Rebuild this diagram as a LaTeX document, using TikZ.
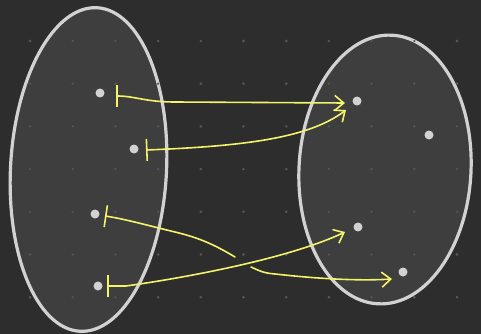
\documentclass[tikz,border=0pt]{standalone}
\usetikzlibrary{arrows.meta,shapes.geometric}
\definecolor{bg}{HTML}{2D2D2D}
\definecolor{gridc}{HTML}{555555}
\definecolor{setfill}{HTML}{3E3E3E}
\definecolor{setline}{HTML}{D2D2D2}
\definecolor{ptc}{HTML}{D2D2D2}
\definecolor{yel}{HTML}{F4F46B}
\begin{document}
\begin{tikzpicture}[x=1pt,y=-1pt,
  setshape/.style={ellipse, draw=setline, fill=setfill, line width=3.2pt, inner sep=0pt},
  pt/.style={circle, fill=ptc, inner sep=0pt, minimum size=9pt},
  mapsto/.style={draw=yel, line width=1.6pt, line cap=round, line join=round,
    {Bar[width=22pt,line width=1.6pt]}-{Straight Barb[length=9pt,width=15pt,line width=1.6pt]}},
  mapstart/.style={draw=yel, line width=1.6pt, line cap=round, line join=round,
    {Bar[width=22pt,line width=1.6pt]}-},
  mapend/.style={draw=yel, line width=1.6pt, line cap=round, line join=round,
    -{Straight Barb[length=9pt,width=15pt,line width=1.6pt]}}]
\useasboundingbox (0,0) rectangle (481,334);
\fill[bg] (0,0) rectangle (481,334);
\foreach \i in {0,...,10}{
  \foreach \j in {0,...,6}{
    \fill[gridc] ({30+42.7*\i},{41+42.7*\j}) circle (1.3pt);
  }
}
\node[setshape, minimum width=156pt, minimum height=324pt, rotate=-3] (A) at (88.5,169.5) {};
\node[setshape, minimum width=172pt, minimum height=269pt, rotate=-3] (B) at (385,169.5) {};
\foreach \i in {0,...,10}{
  \foreach \j in {0,...,6}{
    \fill[gridc] ({30+42.7*\i},{41+42.7*\j}) circle (1.3pt);
  }
}
% points
\node[pt] (a1) at (100,93) {};
\node[pt] (a2) at (134,149) {};
\node[pt] (a3) at (95,214) {};
\node[pt] (a4) at (98,286) {};
\node[pt] (b1) at (357,101) {};
\node[pt] (b2) at (429,135) {};
\node[pt] (b3) at (358,227) {};
\node[pt] (b4) at (403,272) {};
% arrow anchors
\coordinate (s1) at (116,96);
\coordinate (e1) at (345,103);
\coordinate (s2) at (146,150);
\coordinate (e2) at (346,110);
\coordinate (s3) at (105,216);
\coordinate (g3a) at (235,257);
\coordinate (g3b) at (251,267);
\coordinate (e3) at (392,279);
\coordinate (s4) at (107,286);
\coordinate (e4) at (345,232);
% arrows
\draw[mapsto] (s1) .. controls (135,96) and (145,102) .. (175,102) -- (e1);
\draw[mapsto] (s2) .. controls (250,146) and (310,137) .. (e2);
\draw[mapstart] (s3) .. controls (125,219) and (150,226) .. (175,232) .. controls (200,238) and (215,245) .. (g3a);
\draw[mapend] (g3b) .. controls (258,270) and (262,273) .. (275,274) .. controls (320,279) and (360,281) .. (e3);
\draw[mapsto] (s4) -- (126,286) .. controls (190,277) and (290,258) .. (e4);
\end{tikzpicture}
\end{document}
